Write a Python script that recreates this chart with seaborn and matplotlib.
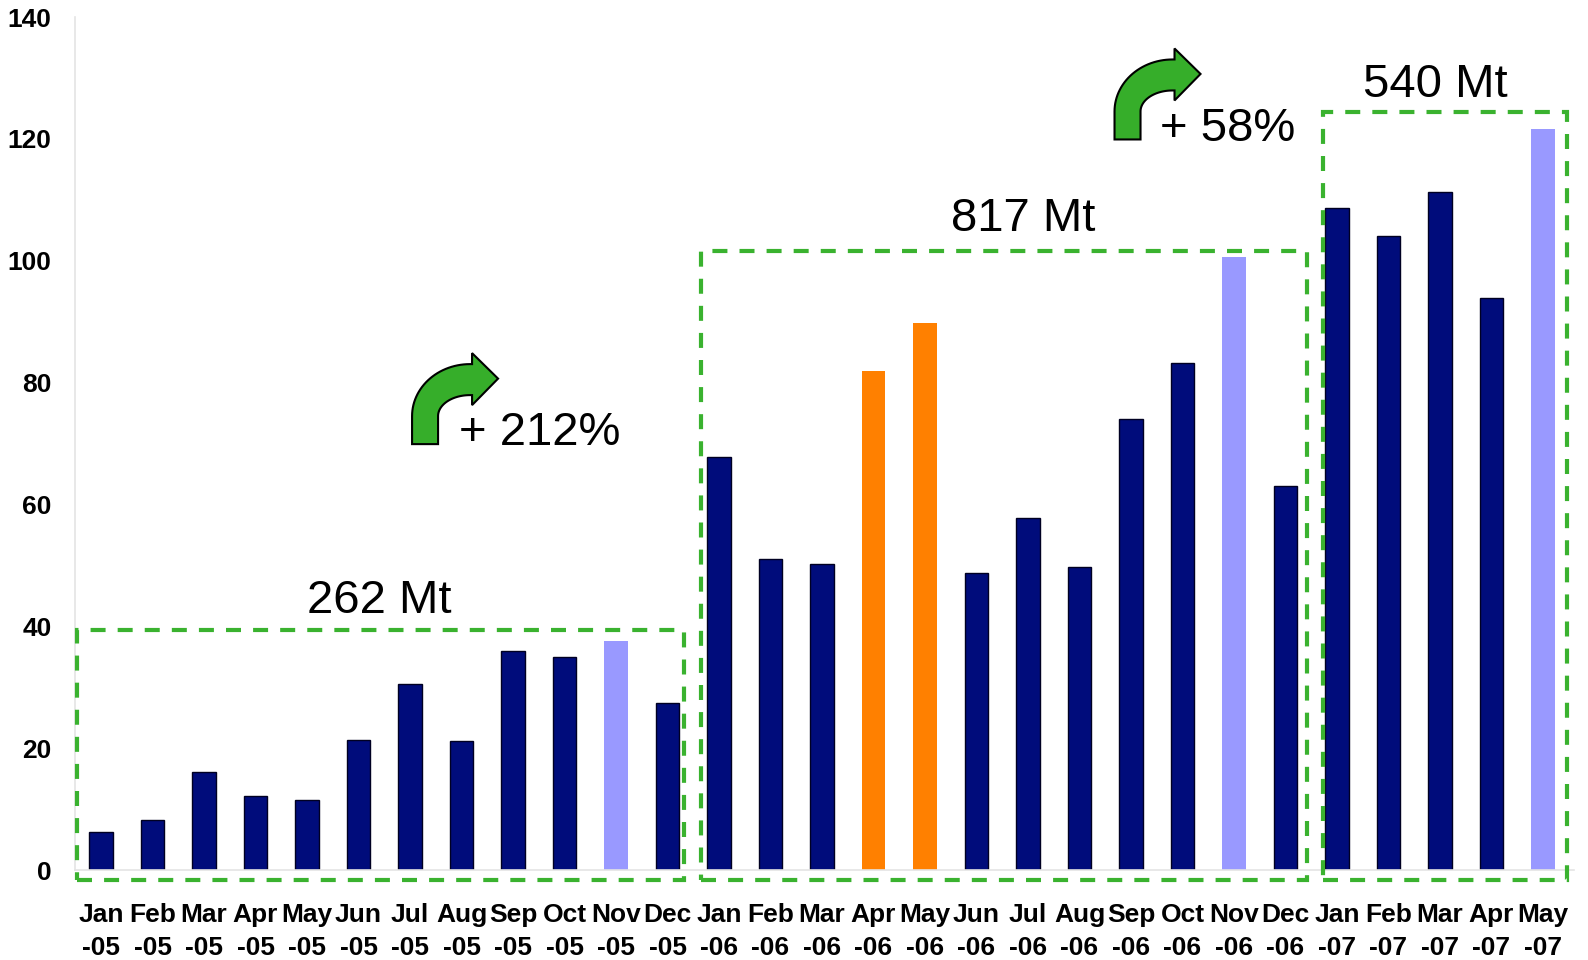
import numpy as np
import pandas as pd
import seaborn as sns
import matplotlib
matplotlib.use("Agg")
import matplotlib.pyplot as plt
import matplotlib.transforms as mtransforms
from matplotlib.patches import Polygon, Rectangle

# monthly volumes (Mt), Jan-05 .. May-07
months = ["Jan", "Feb", "Mar", "Apr", "May", "Jun", "Jul", "Aug", "Sep", "Oct", "Nov", "Dec"] * 2 + \
         ["Jan", "Feb", "Mar", "Apr", "May"]
years = ["-05"] * 12 + ["-06"] * 12 + ["-07"] * 5
values = [6.3, 8.2, 16.1, 12.2, 11.5, 21.3, 30.5, 21.1, 36.0, 35.0, 37.6, 27.4,
          67.8, 51.0, 50.2, 81.9, 89.8, 48.7, 57.8, 49.8, 74.1, 83.2, 100.6, 63.1,
          108.7, 104.1, 111.3, 93.9, 121.7]
kind = ["normal"] * 10 + ["peak"] + ["normal"] + \
       ["normal"] * 3 + ["special"] * 2 + ["normal"] * 5 + ["peak"] + ["normal"] + \
       ["normal"] * 4 + ["peak"]

# yearly groups: first index, last index, label
group_first = [0, 12, 24]
group_last = [11, 23, 28]
group_labels = ["262 Mt", "817 Mt", "540 Mt"]
growth_labels = ["+ 212%", "+ 58%"]

kind_colors = {"normal": "#000C7B", "peak": "#9999FF", "special": "#FF8000"}

labels = [m + "\n" + y for m, y in zip(months, years)]
df = pd.DataFrame({"month": labels, "value": values, "kind": kind})

sns.set_style("white")
plt.rcParams["font.family"] = ["Liberation Sans", "DejaVu Sans"]
plt.rcParams["text.color"] = "black"

fig = plt.figure(figsize=(15.88, 9.6), dpi=100)
ax = fig.add_axes([0.04739, 0.09375, 0.94373, 0.88854])

palette = [kind_colors[k] for k in df["kind"]]
sns.barplot(data=df, x="month", y="value", hue="month", palette=palette,
            legend=False, width=0.45, ax=ax, saturation=1)

for patch, k in zip(ax.patches, df["kind"]):
    if k == "normal":
        patch.set_edgecolor("#000022")
        patch.set_linewidth(1.0)
    else:
        patch.set_linewidth(0)

ax.set_xlim(-0.5, 28.6)
ax.set_ylim(0, 140)
ax.set_yticks(range(0, 141, 20))
ax.set_xlabel("")
ax.set_ylabel("")
for s in ["top", "right"]:
    ax.spines[s].set_visible(False)
for s in ["left", "bottom"]:
    ax.spines[s].set_color("#e4e4e4")
    ax.spines[s].set_linewidth(1.2)
ax.tick_params(axis="y", length=9, color="#e0e0e0", pad=8, labelsize=19)
ax.tick_params(axis="x", length=0, pad=24, labelsize=19)
for lab in ax.get_yticklabels() + ax.get_xticklabels():
    lab.set_fontweight("bold")
    lab.set_color("black")
for lab in ax.get_xticklabels():
    lab.set_linespacing(1.45)

# dashed year boxes
green = "#3AB22F"
box_left = [group_first[0] - 0.47, group_first[1] - 0.35, group_first[2] - 0.28]
box_right = [group_last[0] + 0.32, group_last[1] + 0.42, group_last[2] + 0.46]
box_pad_top = [1.8, 1.0, 2.7]
box_bottom = -1.65
for i in range(3):
    top = max(values[group_first[i]:group_last[i] + 1]) + box_pad_top[i]
    ax.add_patch(Rectangle((box_left[i], box_bottom), box_right[i] - box_left[i],
                           top - box_bottom, fill=False, edgecolor=green,
                           linewidth=3, linestyle=(0, (3.6, 2.9)), clip_on=False,
                           zorder=5))

ax.text(5.41, 42.2, group_labels[0], fontsize=34, ha="center", va="baseline", color="black")
ax.text(17.9, 104.9, group_labels[1], fontsize=34, ha="center", va="baseline", color="black")
ax.text(25.91, 126.9, group_labels[2], fontsize=34, ha="center", va="baseline", color="black")

ax.text(6.95, 69.8, growth_labels[0], fontsize=34, ha="left", va="baseline", color="black")
ax.text(20.56, 119.7, growth_labels[1], fontsize=34, ha="left", va="baseline", color="black")


def bent_arrow(x0, y0):
    # shape drawn in pixels, anchored at the bottom-left of the stem
    t = np.linspace(np.pi, np.pi / 2, 30)
    outer = np.column_stack([58 + 58 * np.cos(t), 28 + 52 * np.sin(t)])
    inner = np.column_stack([58 + 32 * np.cos(t), 28 + 21 * np.sin(t)])[::-1]
    pts = np.vstack([[[0, 0]], outer, [[60, 80], [60, 91], [86, 65.5], [60, 39], [60, 49]],
                     inner, [[26, 0]]])
    trans = mtransforms.Affine2D() + mtransforms.ScaledTranslation(x0, y0, ax.transData)
    ax.add_patch(Polygon(pts, closed=True, facecolor="#36AE2A", edgecolor="black",
                         linewidth=1.5, transform=trans, clip_on=False, zorder=6))


bent_arrow(6.04, 69.9)
bent_arrow(19.68, 119.9)

fig.savefig("out.png", dpi=100)
